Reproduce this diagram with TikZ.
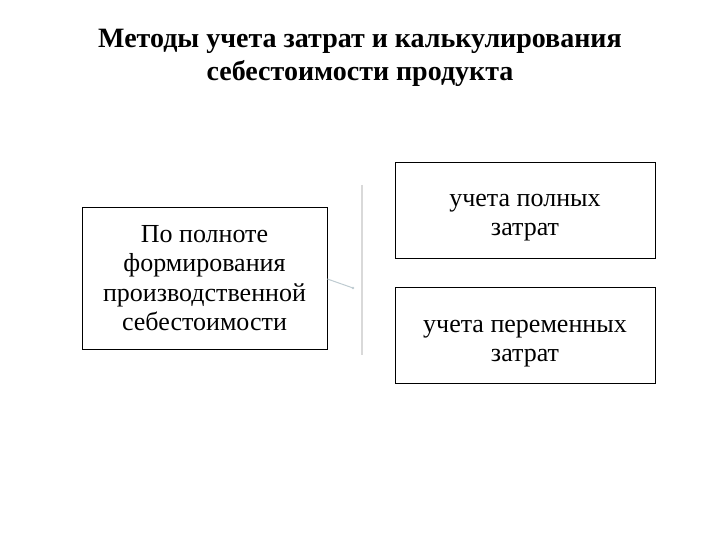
\documentclass[tikz,border=0pt]{standalone}
\usepackage{fontspec}
\setmainfont{Liberation Serif}
\usetikzlibrary{positioning}

\begin{document}
\begin{tikzpicture}[
  x=1pt, y=-1pt,
  box/.style   = {draw, line width=0.8pt, minimum height=142pt, minimum width=245pt, align=center, inner sep=0pt, font=\fontsize{26}{29.5}\selectfont},
  kind/.style  = {draw, line width=0.8pt, minimum height=96pt, minimum width=260pt, align=center, inner sep=0pt, text height=57pt, font=\fontsize{26}{29.5}\selectfont},
  title/.style = {align=center, font=\bfseries\fontsize{28}{33}\selectfont},
  link/.style  = {draw=cyan!20!gray!50, line width=1pt},
  bar/.style   = {draw=gray!30, line width=1.2pt}
]
\useasboundingbox (0,0) rectangle (720,540);

% Title
\node[title] (head) at (360,58) {Методы учета затрат и калькулирования\\себестоимости продукта};

% Nodes
\node[box]  (basis) at (204.5,278) {По полноте\\формирования\\производственной\\себестоимости};
\node[kind] (full)  at (525,210)   {учета полных\\затрат};
\node[kind, below=29pt of full] (var) {учета переменных\\затрат};

% Brace line
\coordinate (bartop) at (362,185);
\coordinate (barbot) at (362,355);
\draw[bar] (bartop) -- (barbot);

% Connector
\coordinate (tip) at (353,288);
\draw[link] (basis.east |- 0,279) -- (tip);
\fill[cyan!20!gray!50] (tip) circle (1.3pt);
\end{tikzpicture}
\end{document}
